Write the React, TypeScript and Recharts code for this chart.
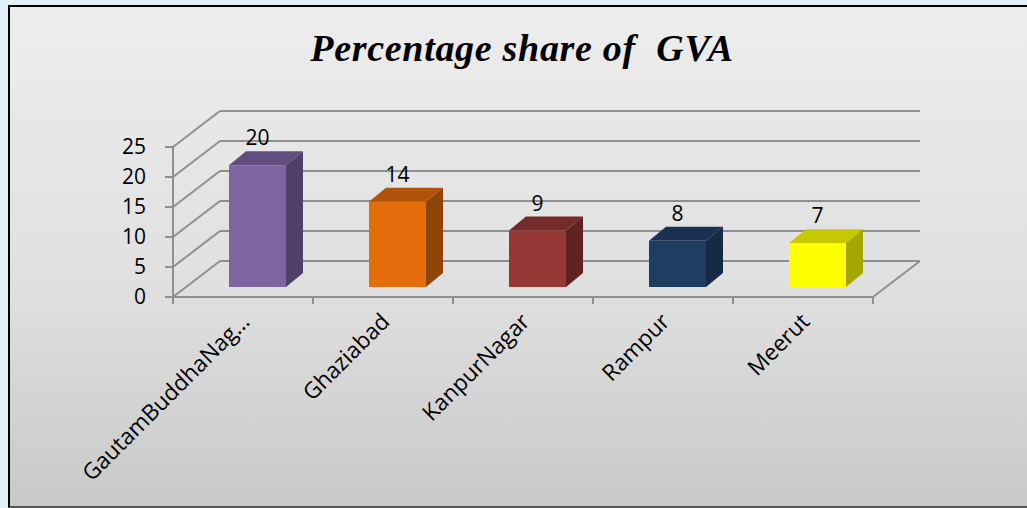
import React from "react";
import { BarChart, Bar, XAxis, YAxis, CartesianGrid, LabelList } from "recharts";

const categories = ["GautamBuddhaNagar", "Ghaziabad", "KanpurNagar", "Rampur", "Meerut"];
const shares = [20.3, 14.2, 9.4, 7.7, 7.3];
const yTicks = [0, 5, 10, 15, 20, 25];
const frontColors = ["#8064A2", "#E46C0A", "#953735", "#1F3D63", "#FFFF00"];
const topColors = ["#634D7E", "#B1540A", "#742B29", "#1A3252", "#C8C800"];
const sideColors = ["#503F68", "#904508", "#612321", "#162A44", "#A6A600"];

const data = categories.map((name, i) => ({ name, value: shares[i], idx: i }));

const W = 1027;
const H = 508;
const PLOT_L = 173;
const PLOT_R = 873;
const PLOT_T = 147;
const PLOT_B = 297;
const BAND = (PLOT_R - PLOT_L) / categories.length;
const DX = 47; // back wall offset
const DY = -36;
const OX = 14; // bar depth placement
const OY = -10;
const SX = 17; // bar depth
const SY = -14;
const GRID = "#8f8f8f";
const FONT = "'Open Sans', sans-serif";

const truncate = (s: string) => (s.length > 16 ? s.slice(0, 15) + "\u2026" : s);

const Box3D = (props: any) => {
  const { x, y, width, height, payload } = props;
  const i = payload.idx;
  const fx = x + OX;
  const fy = y + OY;
  const w = width;
  const h = height;
  return (
    <g>
      <polygon
        points={`${fx},${fy} ${fx + w},${fy} ${fx + w + SX},${fy + SY} ${fx + SX},${fy + SY}`}
        fill={topColors[i]}
      />
      <polygon
        points={`${fx + w},${fy} ${fx + w + SX},${fy + SY} ${fx + w + SX},${fy + h + SY} ${fx + w},${fy + h}`}
        fill={sideColors[i]}
      />
      <rect x={fx} y={fy} width={w} height={h} fill={frontColors[i]} />
    </g>
  );
};

const gridLine = (p: any) => {
  const { x1, y1, x2, y2 } = p;
  const isFloor = Math.abs(y1 - PLOT_B) < 1;
  return (
    <g key={p.key}>
      <line x1={x1 + DX} y1={y1 + DY} x2={x2 + DX} y2={y2 + DY} stroke={GRID} strokeWidth={2} />
      <line x1={x1} y1={y1} x2={x1 + DX} y2={y1 + DY} stroke={GRID} strokeWidth={2} />
      {isFloor && (
        <line x1={x2} y1={y2} x2={x2 + DX} y2={y2 + DY} stroke={GRID} strokeWidth={2} />
      )}
    </g>
  );
};

const XTick = (props: any) => {
  const { x, y, payload, index } = props;
  const half = BAND / 2;
  return (
    <g>
      <line x1={x - half} y1={y} x2={x - half} y2={y + 7} stroke={GRID} strokeWidth={2} />
      {index === categories.length - 1 && (
        <line x1={x + half} y1={y} x2={x + half} y2={y + 7} stroke={GRID} strokeWidth={2} />
      )}
      <text
        transform={`translate(${x + 8},${y + 26}) rotate(-45)`}
        textAnchor="end"
        fontFamily={FONT}
        fontSize={22.5}
        fill="#000"
      >
        {truncate(payload.value)}
      </text>
    </g>
  );
};

const renderValueLabel = (props: any) => {
  const { x, y, width, value } = props;
  return (
    <text
      x={x + width / 2 + OX}
      y={y + OY - 20}
      textAnchor="middle"
      fontFamily={FONT}
      fontSize={21}
      fill="#000"
    >
      {Math.round(value)}
    </text>
  );
};

export default function App() {
  return (
    <div style={{ position: "absolute", left: 0, top: 0, width: W, height: H, background: "#e2f1f8", overflow: "hidden" }}>
      <div
        style={{
          position: "absolute",
          left: 8,
          top: 5,
          width: W - 8,
          height: H - 5,
          boxSizing: "border-box",
          borderLeft: "2px solid #000",
          borderTop: "2px solid #000",
          borderBottom: "2px solid #555",
          background: "linear-gradient(to bottom, #ededed 0%, #e0e0e0 55%, #c9c9c9 100%)",
        }}
      />
      <svg style={{ position: "absolute", left: 0, top: 0 }} width={W} height={H}>
        <text
          x={522}
          y={61}
          textAnchor="middle"
          fontFamily="'Liberation Serif', serif"
          fontWeight="bold"
          fontStyle="italic"
          fontSize={38}
          letterSpacing={0.7}
          fill="#000"
          style={{ whiteSpace: "pre" }}
          xmlSpace="preserve"
        >
          Percentage share of  GVA
        </text>
      </svg>
      <div style={{ position: "absolute", left: 0, top: 0 }}>
        <BarChart
          width={W}
          height={H}
          data={data}
          margin={{ top: PLOT_T, right: W - PLOT_R, bottom: H - PLOT_B - 40, left: PLOT_L - 60 }}
        >
          <CartesianGrid horizontal={gridLine} vertical={false} />
          <XAxis
            dataKey="name"
            height={40}
            tickSize={0}
            tickMargin={0}
            tickLine={false}
            axisLine={{ stroke: GRID, strokeWidth: 2 }}
            tick={<XTick />}
            interval={0}
          />
          <YAxis
            width={60}
            domain={[0, 25]}
            ticks={yTicks}
            interval={0}
            tickSize={8}
            tickMargin={19}
            axisLine={{ stroke: GRID, strokeWidth: 2 }}
            tickLine={{ stroke: GRID, strokeWidth: 2 }}
            tick={{ fontFamily: FONT, fontSize: 21, fill: "#000" }}
          />
          <Bar dataKey="value" barSize={57} shape={<Box3D />} isAnimationActive={false}>
            <LabelList dataKey="value" content={renderValueLabel} />
          </Bar>
        </BarChart>
      </div>
    </div>
  );
}
